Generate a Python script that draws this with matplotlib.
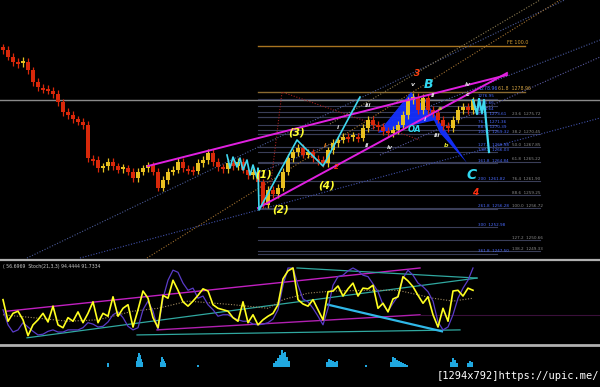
import numpy as np
import matplotlib.pyplot as plt
from matplotlib.lines import Line2D
from matplotlib.patches import Polygon

# ---- price bars (one bar every 5 px of the original chart) ----
closes = [
    1286.7, 1285.4, 1284.4, 1284.2, 1284.4, 1282.8, 1280.5, 1279.5, 1279.2, 1278.8,
    1278.2, 1276.6, 1274.7, 1274.1, 1273.3, 1272.8, 1272.2, 1265.8, 1265.4, 1263.8,
    1264.2, 1265.0, 1264.2, 1263.5, 1263.8, 1263.1, 1261.9, 1263.1, 1263.8, 1264.4,
    1263.1, 1260.0, 1261.5, 1263.1, 1263.5, 1265.0, 1263.8, 1263.5, 1263.3, 1264.8,
    1265.4, 1266.8, 1265.0, 1264.0, 1263.6, 1264.8, 1264.2, 1265.0, 1263.5, 1262.5,
    1263.1, 1261.1, 1256.7, 1259.6, 1258.8, 1260.0, 1263.1, 1265.8, 1266.9, 1267.7,
    1266.4, 1266.9, 1265.8, 1265.4, 1264.8, 1267.3, 1268.7, 1269.3, 1269.9, 1269.7,
    1270.0, 1269.7, 1271.6, 1273.2, 1272.2, 1271.8, 1271.0, 1270.6, 1271.2, 1272.2,
    1274.1, 1277.0, 1277.6, 1275.1, 1277.4, 1275.1, 1274.5, 1273.2, 1272.0, 1271.6,
    1273.2, 1275.1, 1275.7, 1275.1, 1277.0,
]
first_open = 1287.2

# fibonacci levels
fe_level = 1287.49
tan_level = 1278.57
pivot_level = 1277.02
fib1_prices = [1277.22, 1275.86, 1274.70, 1273.73, 1272.18, 1271.21, 1270.43,
               1267.91, 1266.94, 1264.81, 1261.32, 1255.90, 1252.41, 1247.18]
fib1_labels = ["1276.95", "1275.66", "1274.64", "61.8  1273.61", "76.4  1271.36",
               "88.6  1270.39", "100.0  1269.32", "127.2  1266.98", "138.2  1266.03",
               "161.8  1264.84", "200  1261.82", "261.8  1256.28", "300  1252.98",
               "361.8  1247.50"]
fib2_prices = [1273.73, 1270.43, 1267.91, 1265.01, 1261.32, 1258.61, 1256.09,
               1249.89, 1247.76]
fib2_labels = ["23.6  1275.72", "38.2  1270.45", "50.0  1267.85", "61.8  1265.22",
               "76.4  1261.90", "88.6  1259.25", "100.0  1256.72", "127.2  1250.66",
               "138.2  1249.33"]

# trend lines (bar, price)
magenta_up = ([29, 100.8], [1264.23, 1281.87])
magenta_low = ([51, 100.8], [1256.09, 1282.25])
dotted_lines = [
    ([4.8, 114], [1246.40, 1297.18], "#4a5a96"),
    ([15.4, 119.4], [1246.40, 1273.53], "#4050a8"),
    ([28.8, 111.4], [1246.40, 1296.40], "#a07030"),
    ([51.4, 119.4], [1263.07, 1288.65], "#4a5aa0"),
    ([65.4, 107.4], [1272.37, 1296.40], "#8a7a50"),
    ([75.4, 119.4], [1266.36, 1285.35], "#5a5aa0"),
]
red_dotted = ([53.4, 55.8, 83.4], [1259.58, 1278.57, 1269.27])
cyan_wave_x = [44.8, 45.4, 46, 46.8, 47.4, 48, 48.8, 49.4, 50, 50.8, 51, 51.2, 58.8, 64, 71.4]
cyan_wave_y = [1266.36, 1263.84, 1265.97, 1264.04, 1265.78, 1263.46, 1265.40, 1262.49,
               1264.43, 1261.91, 1263.84, 1255.70, 1269.27, 1264.23, 1277.60]
cyan_w_x = [94, 94.8, 95.2, 95.8, 96.2, 97.2]
cyan_w_y = [1277.02, 1274.31, 1277.22, 1274.50, 1277.02, 1266.94]
tri1 = [(75, 1270.63), (81.6, 1278.57), (86.6, 1273.15)]
tri2 = [(84, 1277.60), (87.4, 1270.63), (92.8, 1264.81)]

# wave labels: text, bar, price, colour, size
wave_labels = [
    ("(1)", 52.2, 1262.49, "#ffff30", 7.5), ("(2)", 55.6, 1255.90, "#ffff30", 7.5),
    ("(3)", 58.8, 1270.63, "#ffff30", 7.5), ("(4)", 64.8, 1260.55, "#ffff30", 7.5),
    ("2", 66.6, 1264.04, "#ff3010", 5), ("3", 82.8, 1282.25, "#ff4010", 6.5),
    ("4", 94.4, 1259.19, "#ff3010", 6.5), ("B", 85, 1280.12, "#30d8f0", 9),
    ("C", 93.8, 1262.49, "#30d8f0", 10), ("OA", 82.4, 1271.21, "#30d8f0", 6),
    ("iii", 73, 1276.05, "#e0e0e0", 4.5), ("ii", 72.8, 1268.30, "#e0e0e0", 4.5),
    ("i", 67, 1271.60, "#e0e0e0", 4.5), ("i", 64.4, 1268.30, "#ff9020", 4.5),
    ("iv", 77.4, 1267.91, "#e0e0e0", 4.5), ("v", 82, 1280.12, "#e0e0e0", 4.5),
    ("ii", 86, 1277.99, "#e0e0e0", 4.5), ("i", 84.4, 1273.15, "#e0e0e0", 4.5),
    ("iii", 86.8, 1270.05, "#e0e0e0", 4.5), ("a", 87.4, 1275.47, "#c0c040", 4.5),
    ("b", 88.6, 1268.30, "#e0e030", 4.5), ("c", 93, 1278.18, "#e0e0e0", 4.5),
    ("iv", 93, 1280.12, "#e0e0e0", 4.5),
]

# ---- stochastic window ----
stoch_main = [
    56, 26, 37, 40, 28, 6, 21, 28, 37, 25,
    47, 21, 17, 31, 26, 39, 24, 37, 53, 24,
    37, 33, 60, 33, 44, 49, 18, 42, 68, 58,
    31, 17, 62, 58, 83, 69, 53, 47, 54, 62,
    71, 68, 49, 44, 42, 40, 31, 26, 53, 24,
    35, 21, 28, 33, 37, 49, 85, 96, 100, 56,
    50, 47, 56, 42, 28, 67, 68, 75, 61, 71,
    79, 61, 72, 71, 76, 44, 51, 39, 57, 60,
    88, 82, 74, 62, 51, 60, 35, 18, 44, 26,
    68, 69, 61, 72, 69,
]
stoch_signal = [
    42, 21, 11, 14, 24, 18, 12, 7, 8, 12,
    14, 11, 11, 14, 14, 14, 17, 24, 22, 18,
    19, 25, 35, 39, 31, 19, 14, 17, 42, 54,
    40, 14, 58, 83, 97, 94, 79, 69, 72, 58,
    61, 49, 42, 33, 35, 35, 31, 28, 26, 26,
    22, 21, 22, 24, 29, 42, 76, 100, 100, 76,
    57, 53, 44, 33, 21, 44, 76, 88, 90, 96,
    100, 96, 90, 88, 78, 67, 49, 40, 51, 61,
    86, 97, 90, 79, 74, 67, 54, 25, 14, 18,
    35, 58, 72, 83, 100,
]
ma_bars = [0, 6, 13, 19, 26, 31, 37, 46, 53, 56, 61, 66, 73, 79, 86, 90, 94]
ma_vals = [35, 31, 26, 28, 40, 44, 54, 49, 44, 56, 65, 68, 69, 69, 58, 54, 58]
stoch_lines = [
    ([0.8, 83.4], [40, 100], "#c020c0", 1.0),
    ([30.8, 83.4], [14, 35], "#b020b0", 1.0),
    ([4.8, 94.8], [3, 86], "#30a8a0", 0.9),
    ([58.8, 94.8], [100, 86], "#30a8a0", 0.9),
    ([26.8, 91.4], [7, 14], "#30a8a0", 0.9),
    ([65, 87.8], [49, 12], "#30b8e8", 1.6),
    ([83.4, 119.4], [35, 35], "#3a103a", 0.8),
]

# ---- histogram window ----
hist_bars = [21.0, 26.8, 27.0, 27.2, 27.4, 27.6, 27.8, 31.6, 31.8, 32.0, 32.2, 32.4, 39.0,
             54.2, 54.6, 55.0, 55.4, 55.8, 56.0, 56.4, 56.8, 57.2, 64.8, 65.2, 65.6, 66.0,
             66.4, 66.8, 72.6, 77.6, 78.0, 78.4, 78.8, 79.2, 79.6, 80.0, 80.4, 80.8, 89.6,
             90.0, 90.4, 90.8, 93.0, 93.4, 93.8]
hist_vals = [4, 6, 10, 14, 12, 8, 5, 5, 10, 8, 6, 4, 2,
             4, 6, 9, 12, 17, 14, 15, 10, 6, 5, 8, 7, 6,
             5, 6, 2, 5, 10, 9, 7, 6, 5, 4, 3, 2, 5,
             9, 7, 4, 4, 6, 5]

W, H = 600, 387
fig = plt.figure(figsize=(6, 3.87), dpi=100, facecolor="black")


def panel(top, bottom):
    ax = fig.add_axes([0, 1 - bottom / H, 1, (bottom - top) / H])
    ax.set_facecolor("black")
    ax.set_axis_off()
    ax.set_xlim(-0.6, 119.4)
    return ax


ax = panel(0, 258.5)
ax.set_ylim(1246.31, 1296.40)

# fib levels
ax.plot([51, 104.4], [fe_level] * 2, color="#a87420", lw=1.0, zorder=1)
ax.text(100.8, fe_level + 0.15, "FE 100.0", color="#d09a30", fontsize=3.5, va="bottom")
ax.plot([51, 104.4], [tan_level] * 2, color="#8a6a30", lw=1.0, zorder=1)
ax.text(95, tan_level + 0.1, "1278.96", color="#4a6aff", fontsize=3.3, va="bottom")
ax.text(99, tan_level + 0.1, "61.8  1278.96", color="#d0a040", fontsize=3.3, va="bottom")
ax.axhline(pivot_level, color="#8a8a8a", lw=1.0, zorder=1)
for p, lab in zip(fib1_prices, fib1_labels):
    ax.plot([51, 98.8], [p, p], color="#3a3e58", lw=0.8, zorder=1)
    ax.text(95, p + 0.1, lab, color="#4a6aff", fontsize=3.0, va="bottom")
for p, lab in zip(fib2_prices, fib2_labels):
    ax.plot([51, 107.4], [p, p], color="#3a3e58", lw=0.8, zorder=1)
    ax.text(101.8, p + 0.1, lab, color="#8a8a8a", fontsize=3.0, va="bottom")

for xs, ys, col in dotted_lines:
    ax.plot(xs, ys, color=col, lw=0.8, ls=(0, (1, 1.5)), zorder=1.5)
ax.plot(*red_dotted, color="#a02020", lw=0.8, ls=(0, (1, 1.5)), zorder=1.5)

for tri in (tri1, tri2):
    ax.add_patch(Polygon(tri, closed=True, color="#1430ff", alpha=0.95, lw=0, zorder=2))

# candles: body from open (previous close) to close, short wick either side
opens = [first_open] + closes[:-1]
xb = np.arange(len(closes))
wick = 0.7
for i, (o, c) in enumerate(zip(opens, closes)):
    col = "#e8c020" if c >= o else "#d8280a"
    lo, hi = min(o, c), max(o, c)
    if hi - lo < 0.4:
        lo, hi = c - 0.2, c + 0.2
    ax.vlines(xb[i], lo - wick, hi + wick, color=col, lw=0.9, zorder=3)
    ax.bar(xb[i], hi - lo, bottom=lo, width=0.75, color=col, lw=0, zorder=3)

ax.plot(*magenta_up, color="#e020e0", lw=1.4, zorder=4)
ax.plot(*magenta_low, color="#e020e0", lw=1.4, zorder=4)
ax.plot(cyan_wave_x, cyan_wave_y, color="#40d8f0", lw=1.2, zorder=4)
ax.plot(cyan_w_x, cyan_w_y, color="#40d8f0", lw=1.6, zorder=4)

for t, x, y, col, fs in wave_labels:
    ax.text(x, y, t, color=col, fontsize=fs, fontstyle="italic",
            fontweight="bold", ha="center", va="center", zorder=5)

# stochastic
ax_s = panel(261, 344)
ax_s.set_ylim(-5.6, 109.7)
for xs, ys, col, lw in stoch_lines:
    ax_s.plot(xs, ys, color=col, lw=lw, zorder=1)
ax_s.plot(ma_bars, ma_vals, color="#a08a60", lw=0.8, ls=(0, (1, 1.5)), zorder=2)
ax_s.plot(xb, stoch_signal, color="#5a3cc8", lw=0.9, zorder=2)
ax_s.plot(xb, stoch_main, color="#ffff20", lw=1.2, zorder=3)
ax_s.text(0.005, 0.93, "( 56.6969  Stoch(21,3,3) 94.4444 91.7334", color="#c8c8c8",
          fontsize=3.3, transform=ax_s.transAxes, va="center")

# histogram
ax_h = panel(346, 387)
ax_h.set_ylim(-20, 21)
ax_h.bar(hist_bars, hist_vals, width=0.25, color="#20a8e0", lw=0)

# window separators
for yy, lw in ((259.5, 1.6), (345.0, 2.0)):
    fig.add_artist(Line2D([0, 1], [1 - yy / H] * 2, transform=fig.transFigure,
                          color="#b0b0b0", lw=lw))

fig.text(0.998, 1 - 376 / H, "[1294x792]https://upic.me/", color="white",
         fontsize=7.5, family="DejaVu Sans Mono", ha="right", va="center",
         bbox=dict(facecolor="black", edgecolor="none", pad=1.5))

fig.savefig("out.png", dpi=100, facecolor="black")
